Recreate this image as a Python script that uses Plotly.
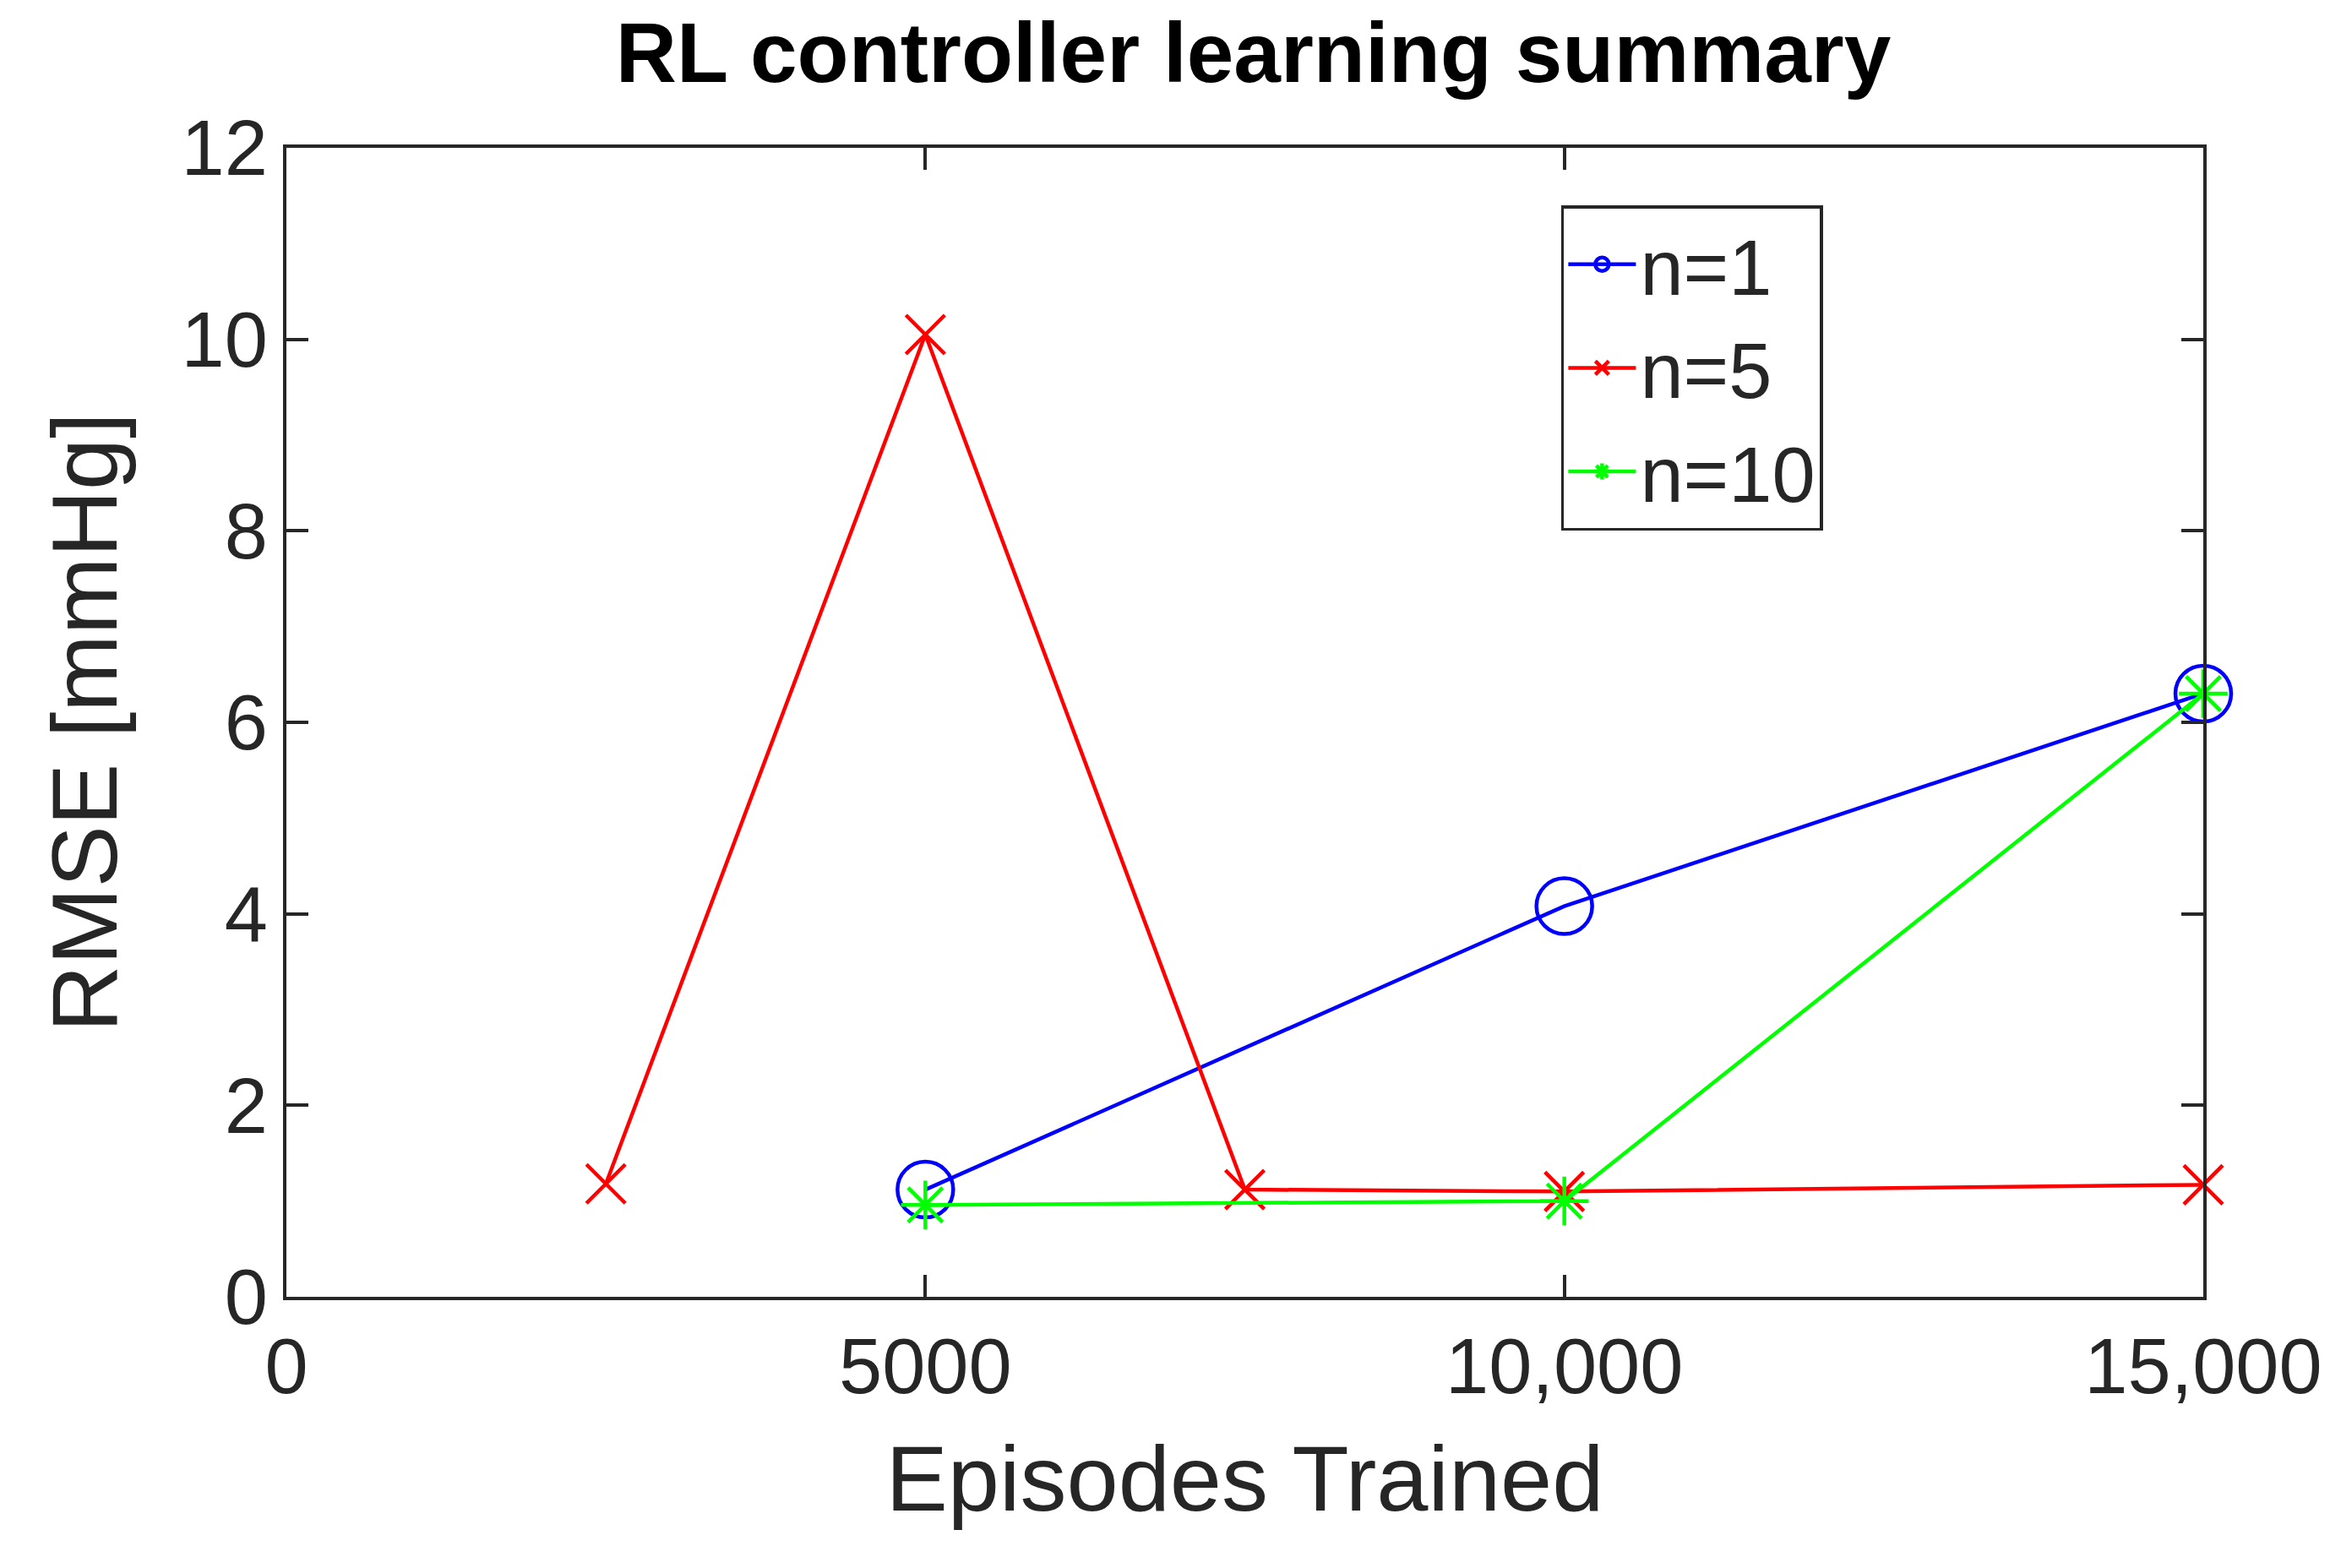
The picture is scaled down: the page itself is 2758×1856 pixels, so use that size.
import plotly.graph_objects as go

x_n1 = [5000, 10000, 15000]
y_n1 = [1.12, 4.08, 6.3]
x_n5 = [2500, 5000, 7500, 10000, 15000]
y_n5 = [1.18, 10.05, 1.12, 1.1, 1.17]
x_n10 = [5000, 10000, 15000]
y_n10 = [0.96, 1.0, 6.3]
xticks = [0, 5000, 10000, 15000]
xticklabels = ["0", "5000", "10,000", "15,000"]
yticks = [0, 2, 4, 6, 8, 10, 12]

fig = go.Figure()
fig.add_trace(go.Scatter(x=x_n1, y=y_n1, name="n=1", mode="lines+markers", cliponaxis=False,
    line=dict(color="#0000FF", width=4.5),
    marker=dict(symbol="circle-open", size=66, line=dict(width=4.5, color="#0000FF"))))
fig.add_trace(go.Scatter(x=x_n5, y=y_n5, name="n=5", mode="lines+markers", cliponaxis=False,
    line=dict(color="#FF0000", width=4.5),
    marker=dict(symbol="x-thin-open", size=46, line=dict(width=4.5, color="#FF0000"))))
fig.add_trace(go.Scatter(x=x_n10, y=y_n10, name="n=10", mode="lines+markers", cliponaxis=False,
    line=dict(color="#00FF00", width=4.5),
    marker=dict(symbol="asterisk-open", size=48, line=dict(width=4.5, color="#00FF00"))))

axis_common = dict(showgrid=False, zeroline=False, showline=True, linecolor="#262626",
    linewidth=3.5, mirror="ticks", ticks="inside", ticklen=26, tickwidth=3.5, tickcolor="#262626",
    tickfont=dict(size=92, color="#262626"))
fig.update_xaxes(range=[0, 15000], tickvals=xticks, ticktext=xticklabels,
    title=dict(text="Episodes Trained", font=dict(size=110, color="#262626"), standoff=45), **axis_common)
fig.update_yaxes(range=[0, 12], tickvals=yticks,
    title=dict(text="RMSE [mmHg]", font=dict(size=110, color="#262626"), standoff=40), **axis_common)

fig.update_layout(
    width=2758, height=1856,
    margin=dict(l=331, r=158, t=167, b=329, autoexpand=False),
    paper_bgcolor="white", plot_bgcolor="white",
    font=dict(family="Liberation Sans, Arial, sans-serif", color="#262626"),
    title=dict(text="<b>RL controller learning summary</b>", x=0.535, xanchor="center",
               y=0.99, yanchor="top", font=dict(size=100, color="#000000")),
    legend=dict(x=0.665, y=0.95, xanchor="left", yanchor="top",
                bgcolor="white", bordercolor="#262626", borderwidth=3.5,
                font=dict(size=92, color="#262626"), itemwidth=80, tracegroupgap=10),
    showlegend=True,
)
fig.write_html("out.html")
